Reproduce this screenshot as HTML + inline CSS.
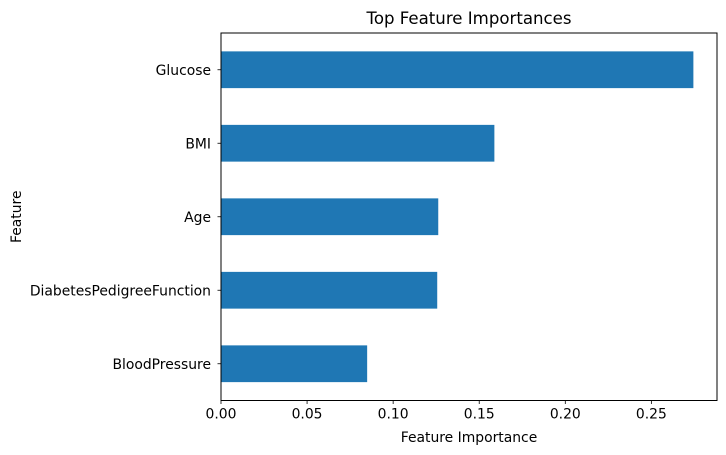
<!DOCTYPE html>
<html><head><meta charset="utf-8"><style>
body{margin:0;background:#fff;}
svg{display:block;font-family:"DejaVu Sans","Liberation Sans",sans-serif;}
</style></head><body>
<svg id="chart" width="726" height="455"></svg>
<script>
const categories = ["BloodPressure","DiabetesPedigreeFunction","Age","BMI","Glucose"];
const values = [0.0849, 0.1256, 0.1262, 0.1588, 0.2744];
const tickValues = [0, 0.05, 0.10, 0.15, 0.20, 0.25];
const tickLabels = ["0.00","0.05","0.10","0.15","0.20","0.25"];

const NS = "http://www.w3.org/2000/svg";
const svg = document.getElementById("chart");
const L = 221, R = 717, T = 33, B = 400.5;
const xMax = Math.max(...values) * 1.05;
const xs = v => L + v / xMax * (R - L);
const band = (B - T) / categories.length;
const yc = i => B - (i + 0.5) * band;

function mk(tag, attrs, text) {
  const e = document.createElementNS(NS, tag);
  for (const k in attrs) e.setAttribute(k, attrs[k]);
  if (text !== undefined) e.textContent = text;
  svg.appendChild(e);
  return e;
}

values.forEach((v, i) => {
  const r = mk("rect", {x: L, y: yc(i) - band / 4, width: xs(v) - L, height: band / 2, fill: "#1f77b4"});
  
  
  mk("line", {x1: L - 3.5, x2: L, y1: yc(i), y2: yc(i), stroke: "#000", "stroke-width": 0.8});
  const t = mk("text", {x: L - 10, y: yc(i) + 5, "text-anchor": "end", "font-size": 13.9, fill: "#000"}, categories[i]);
  
  
});

tickValues.forEach((v, i) => {
  mk("line", {x1: xs(v), x2: xs(v), y1: B, y2: B + 3.5, stroke: "#000", "stroke-width": 0.8});
  const t = mk("text", {x: xs(v), y: B + 18, "text-anchor": "middle", "font-size": 13.9, fill: "#000"}, tickLabels[i]);
  
  
});

const frame = mk("rect", {x: L, y: T, width: R - L, height: B - T, fill: "none", stroke: "#000", "stroke-width": 1});



const title = mk("text", {x: (L + R) / 2, y: 24, "text-anchor": "middle", "font-size": 16.6, fill: "#000"}, "Top Feature Importances");



const xt = mk("text", {x: (L + R) / 2, y: 442, "text-anchor": "middle", "font-size": 13.9, fill: "#000"}, "Feature Importance");



const yt = mk("text", {x: 21, y: (T + B) / 2, "text-anchor": "middle", "font-size": 13.9, fill: "#000", transform: "rotate(-90 21 " + (T + B) / 2 + ")"}, "Feature");


</script>
</body></html>
